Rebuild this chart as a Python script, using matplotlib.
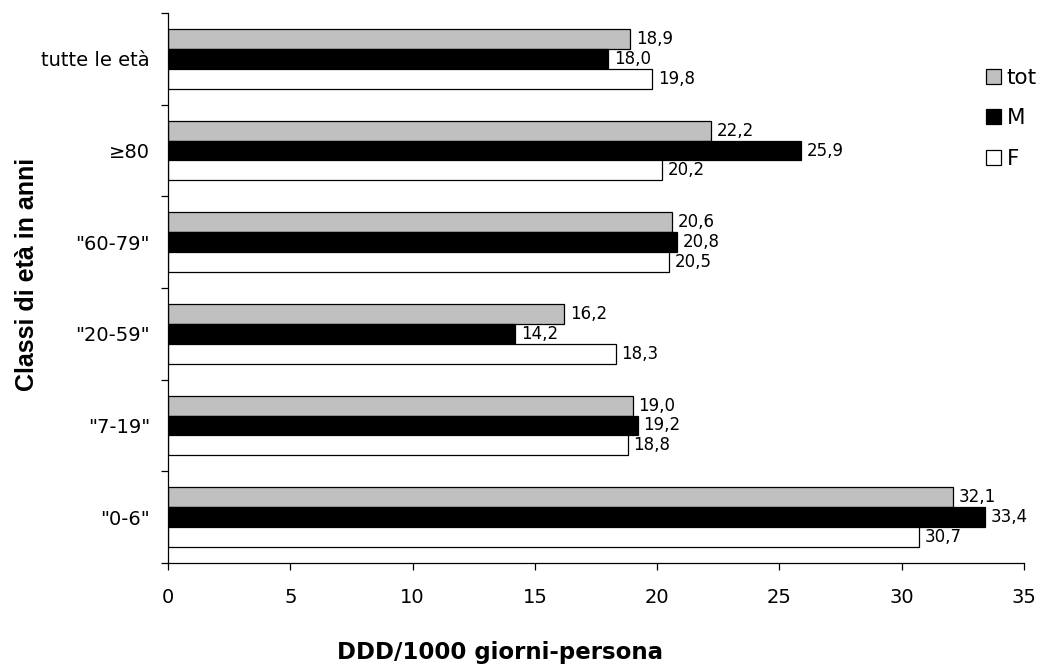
import matplotlib
matplotlib.use("Agg")
import matplotlib.pyplot as plt
from matplotlib.ticker import FixedLocator, NullFormatter
import numpy as np

categories = ['"0-6"', '"7-19"', '"20-59"', '"60-79"', '≥80', 'tutte le età']
tot = [32.1, 19.0, 16.2, 20.6, 22.2, 18.9]
M = [33.4, 19.2, 14.2, 20.8, 25.9, 18.0]
F = [30.7, 18.8, 18.3, 20.5, 20.2, 19.8]
series_names = ["tot", "M", "F"]
series_colors = ["#C0C0C0", "#000000", "#FFFFFF"]
xticks = [0, 5, 10, 15, 20, 25, 30, 35]

plt.rcParams["font.family"] = ["DejaVu Sans"]

W, H = 1047, 670
fig = plt.figure(figsize=(W / 100, H / 100), dpi=100)
ax = fig.add_axes([168 / W, 1 - 563 / H, (1024 - 168) / W, (563 - 13) / H])

y = np.arange(len(categories))
bh = 0.218
offsets = [bh, 0.0, -bh]
bars = []
for vals, off, col, name in zip([tot, M, F], offsets, series_colors, series_names):
    b = ax.barh(y + off, vals, height=bh, color=col, edgecolor="black",
                linewidth=0.9, label=name)
    bars.append(b)
    for yy, v in zip(y + off, vals):
        ax.annotate(f"{v:.1f}".replace(".", ","), xy=(v, yy), xytext=(4, 0),
                    textcoords="offset points", va="center", ha="left",
                    fontsize=12)

ax.set_xlim(0, 35)
ax.set_ylim(-0.5, len(categories) - 0.5)
ax.set_xticks(xticks)
ax.set_xticklabels([str(t) for t in xticks], fontsize=14)

# group boundaries carry the tick marks, group centres carry the labels
ax.yaxis.set_major_locator(FixedLocator(np.arange(-0.5, len(categories), 1.0)))
ax.yaxis.set_major_formatter(NullFormatter())
ax.yaxis.set_minor_locator(FixedLocator(y))
ax.set_yticklabels(categories, minor=True, fontsize=14)
ax.tick_params(axis="y", which="minor", length=0, pad=13)
ax.tick_params(axis="y", which="major", direction="out", length=5, width=0.9)
ax.tick_params(axis="x", which="major", direction="out", length=5, width=0.9, pad=13)

for s in ("top", "right"):
    ax.spines[s].set_visible(False)
for s in ("left", "bottom"):
    ax.spines[s].set_linewidth(0.9)

fig.text(500 / W, 1 - 653 / H, "DDD/1000 giorni-persona", ha="center",
         va="center", fontsize=16.5, fontweight="bold")
fig.text(27 / W, 1 - 274 / H, "Classi di età in anni", ha="center", va="center",
         rotation=90, fontsize=18, fontweight="bold", family="Liberation Sans")

leg = fig.legend(handles=bars, labels=series_names, loc="upper left",
                 bbox_to_anchor=(986 / W, 1 - 68 / H), frameon=False,
                 fontsize=15.5, handlelength=0.7, handleheight=0.7,
                 handletextpad=0.25, labelspacing=0.95, borderpad=0,
                 borderaxespad=0)

fig.savefig("out.png", dpi=100)
